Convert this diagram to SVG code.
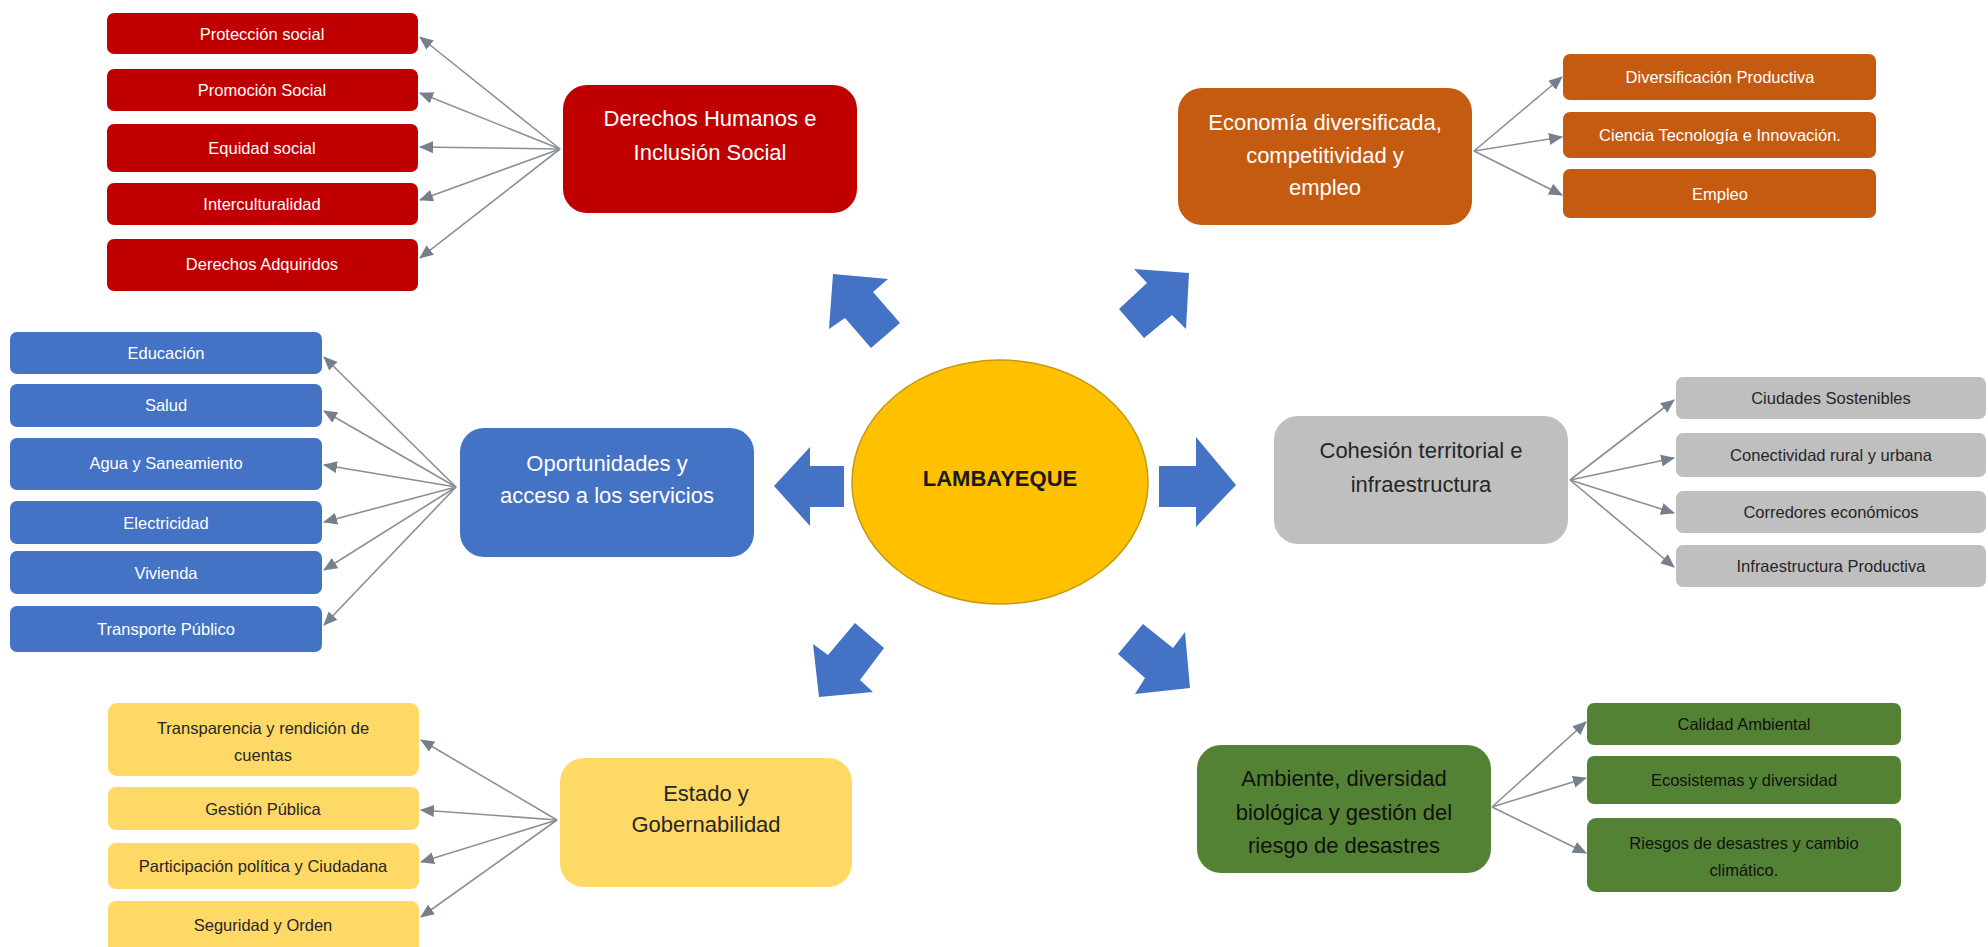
<svg xmlns="http://www.w3.org/2000/svg" width="1988" height="947" viewBox="0 0 1988 947">
<defs>
<style>
.main{font-family:"Liberation Sans",Arial,sans-serif;font-size:22px;text-anchor:middle;dominant-baseline:central}
.sub{font-family:"Liberation Sans",Arial,sans-serif;font-size:16.5px;text-anchor:middle;dominant-baseline:central}
.w{fill:#ffffff}
.d{fill:#262626}
.k{fill:#111111}
.red{fill:#C00000}
.org{fill:#C55A11}
.blu{fill:#4472C4}
.gry{fill:#BFBFBF}
.yel{fill:#FFD966}
.grn{fill:#548235}
.conn line{stroke:#8A8F96;stroke-width:1.6;marker-end:url(#ah)}
.big{fill:#4472C4}
</style>
<marker id="ah" markerUnits="userSpaceOnUse" markerWidth="14" markerHeight="12" refX="13" refY="6" orient="auto">
<path d="M0,0 L14,6 L0,12 z" fill="#76808C"/>
</marker>
</defs>
<rect width="1988" height="947" fill="#ffffff"/>

<g id="center">
<ellipse cx="1000" cy="482" rx="148" ry="122" fill="#FFC000" stroke="#C49A10" stroke-width="1.5"/>
<text x="1000" y="478" font-family="'Liberation Sans',Arial,sans-serif" font-size="22" font-weight="bold" text-anchor="middle" dominant-baseline="central" fill="#1a1a1a">LAMBAYEQUE</text>
</g>

<g id="big-arrows">
<polygon class="big" points="833,274 888,279 873,292 900,323 871,348 845,318 829,329"/>
<polygon class="big" points="1189,273 1134,269 1147,283 1119,309 1144,338 1172,315 1186,329"/>
<polygon class="big" points="819,697 813,644 828,655 855,623 884,648 860,680 873,692"/>
<polygon class="big" points="1190,688 1135,694 1145,678 1118,654 1143,624 1173,648 1185,632"/>
<polygon class="big" points="774,486 810,447 810,466 844,466 844,507 810,507 810,526"/>
<polygon class="big" points="1236,485 1196,437 1196,466 1159,466 1159,507 1196,507 1196,527"/>
</g>

<g id="connectors" class="conn">
<line x1="560" y1="149" x2="420" y2="37"/>
<line x1="560" y1="149" x2="420" y2="93"/>
<line x1="560" y1="149" x2="420" y2="147"/>
<line x1="560" y1="149" x2="420" y2="200"/>
<line x1="560" y1="149" x2="420" y2="258"/>
<line x1="1474" y1="151" x2="1562" y2="77"/>
<line x1="1474" y1="151" x2="1562" y2="137"/>
<line x1="1474" y1="151" x2="1562" y2="195"/>
<line x1="456" y1="487" x2="324" y2="357"/>
<line x1="456" y1="487" x2="324" y2="411"/>
<line x1="456" y1="487" x2="324" y2="465"/>
<line x1="456" y1="487" x2="324" y2="522"/>
<line x1="456" y1="487" x2="324" y2="570"/>
<line x1="456" y1="487" x2="324" y2="625"/>
<line x1="1570" y1="480" x2="1674" y2="400"/>
<line x1="1570" y1="480" x2="1674" y2="458"/>
<line x1="1570" y1="480" x2="1674" y2="513"/>
<line x1="1570" y1="480" x2="1674" y2="567"/>
<line x1="557" y1="820" x2="421" y2="740"/>
<line x1="557" y1="820" x2="421" y2="810"/>
<line x1="557" y1="820" x2="421" y2="862"/>
<line x1="557" y1="820" x2="421" y2="917"/>
<line x1="1492" y1="807" x2="1586" y2="722"/>
<line x1="1492" y1="807" x2="1586" y2="778"/>
<line x1="1492" y1="807" x2="1586" y2="853"/>
</g>

<g id="derechos">
<rect class="red" x="563" y="85" width="294" height="128" rx="24"/>
<text class="main w" x="710" y="118">Derechos Humanos e</text>
<text class="main w" x="710" y="152">Inclusión Social</text>
</g>
<g id="derechos-items">
<rect class="red" x="107" y="13" width="311" height="41" rx="7"/><text class="sub w" x="262" y="34">Protección social</text>
<rect class="red" x="107" y="69" width="311" height="42" rx="7"/><text class="sub w" x="262" y="90">Promoción Social</text>
<rect class="red" x="107" y="124" width="311" height="48" rx="7"/><text class="sub w" x="262" y="148">Equidad social</text>
<rect class="red" x="107" y="183" width="311" height="42" rx="7"/><text class="sub w" x="262" y="204">Interculturalidad</text>
<rect class="red" x="107" y="239" width="311" height="52" rx="7"/><text class="sub w" x="262" y="264">Derechos Adquiridos</text>
</g>

<g id="economia">
<rect class="org" x="1178" y="88" width="294" height="137" rx="24"/>
<text class="main w" x="1325" y="122">Economía diversificada,</text>
<text class="main w" x="1325" y="155">competitividad y</text>
<text class="main w" x="1325" y="187">empleo</text>
</g>
<g id="economia-items">
<rect class="org" x="1563" y="54" width="313" height="46" rx="7"/><text class="sub w" x="1720" y="77">Diversificación Productiva</text>
<rect class="org" x="1563" y="112" width="313" height="46" rx="7"/><text class="sub w" x="1720" y="135">Ciencia Tecnología e Innovación.</text>
<rect class="org" x="1563" y="169" width="313" height="49" rx="7"/><text class="sub w" x="1720" y="194">Empleo</text>
</g>

<g id="oportunidades">
<rect class="blu" x="460" y="428" width="294" height="129" rx="24"/>
<text class="main w" x="607" y="463">Oportunidades y</text>
<text class="main w" x="607" y="495">acceso a los servicios</text>
</g>
<g id="oportunidades-items">
<rect class="blu" x="10" y="332" width="312" height="42" rx="7"/><text class="sub w" x="166" y="353">Educación</text>
<rect class="blu" x="10" y="384" width="312" height="43" rx="7"/><text class="sub w" x="166" y="405">Salud</text>
<rect class="blu" x="10" y="438" width="312" height="52" rx="7"/><text class="sub w" x="166" y="463">Agua y Saneamiento</text>
<rect class="blu" x="10" y="501" width="312" height="43" rx="7"/><text class="sub w" x="166" y="523">Electricidad</text>
<rect class="blu" x="10" y="551" width="312" height="43" rx="7"/><text class="sub w" x="166" y="573">Vivienda</text>
<rect class="blu" x="10" y="606" width="312" height="46" rx="7"/><text class="sub w" x="166" y="629">Transporte Público</text>
</g>

<g id="cohesion">
<rect class="gry" x="1274" y="416" width="294" height="128" rx="24"/>
<text class="main d" x="1421" y="450">Cohesión territorial e</text>
<text class="main d" x="1421" y="484">infraestructura</text>
</g>
<g id="cohesion-items">
<rect class="gry" x="1676" y="377" width="310" height="42" rx="7"/><text class="sub d" x="1831" y="398">Ciudades Sostenibles</text>
<rect class="gry" x="1676" y="433" width="310" height="44" rx="7"/><text class="sub d" x="1831" y="455">Conectividad rural y urbana</text>
<rect class="gry" x="1676" y="491" width="310" height="42" rx="7"/><text class="sub d" x="1831" y="512">Corredores económicos</text>
<rect class="gry" x="1676" y="545" width="310" height="42" rx="7"/><text class="sub d" x="1831" y="566">Infraestructura Productiva</text>
</g>

<g id="estado">
<rect class="yel" x="560" y="758" width="292" height="129" rx="24"/>
<text class="main d" x="706" y="793">Estado y</text>
<text class="main d" x="706" y="824">Gobernabilidad</text>
</g>
<g id="estado-items">
<rect class="yel" x="108" y="703" width="311" height="73" rx="9"/><text class="sub d" x="263" y="728">Transparencia y rendición de</text><text class="sub d" x="263" y="755">cuentas</text>
<rect class="yel" x="108" y="787" width="311" height="43" rx="8"/><text class="sub d" x="263" y="809">Gestión Pública</text>
<rect class="yel" x="108" y="843" width="311" height="46" rx="8"/><text class="sub d" x="263" y="866">Participación política y Ciudadana</text>
<rect class="yel" x="108" y="901" width="311" height="56" rx="8"/><text class="sub d" x="263" y="925">Seguridad y Orden</text>
</g>

<g id="ambiente">
<rect class="grn" x="1197" y="745" width="294" height="128" rx="24"/>
<text class="main k" x="1344" y="778">Ambiente, diversidad</text>
<text class="main k" x="1344" y="812">biológica y gestión del</text>
<text class="main k" x="1344" y="845">riesgo de desastres</text>
</g>
<g id="ambiente-items">
<rect class="grn" x="1587" y="703" width="314" height="42" rx="7"/><text class="sub k" x="1744" y="724">Calidad Ambiental</text>
<rect class="grn" x="1587" y="756" width="314" height="48" rx="7"/><text class="sub k" x="1744" y="780">Ecosistemas y diversidad</text>
<rect class="grn" x="1587" y="818" width="314" height="74" rx="9"/><text class="sub k" x="1744" y="843">Riesgos de desastres y cambio</text><text class="sub k" x="1744" y="870">climático.</text>
</g>
</svg>
